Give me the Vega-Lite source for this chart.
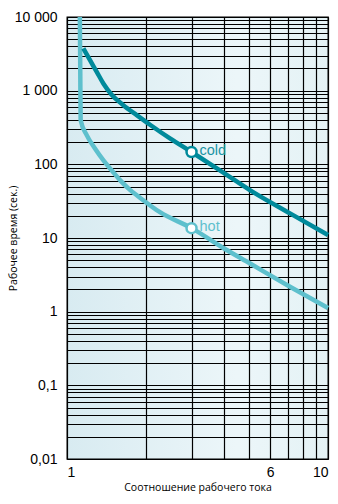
{
  "$schema": "https://vega.github.io/schema/vega-lite/v6.json",
  "width": 261,
  "height": 442,
  "autosize": {"type": "none"},
  "padding": {"left": 67, "top": 17, "right": 10, "bottom": 45},
  "background": "#ffffff",
  "config": {
    "view": {
      "stroke": "#000000",
      "strokeWidth": 1.3,
      "fill": {
        "gradient": "linear",
        "x1": 0, "y1": 0, "x2": 1, "y2": 0,
        "stops": [
          {"offset": 0, "color": "#d8ebf1"},
          {"offset": 0.65, "color": "#ecf6f9"},
          {"offset": 1, "color": "#e4f2f5"}
        ]
      }
    },
    "axis": {
      "grid": true,
      "gridColor": "#000000",
      "gridWidth": 1.2,
      "gridOpacity": 1,
      "ticks": false,
      "domain": false,
      "labelFont": "Liberation Sans",
      "labelFontSize": 14,
      "labelColor": "#000000",
      "labelOverlap": false,
      "titleFont": "Open Sans",
      "titleFontSize": 10.5,
      "titleFontWeight": "normal",
      "titleColor": "#000000"
    }
  },
  "datasets": {
    "curves": [
      {"series": "hot", "order": 1, "ratio": 1.12, "time": 10000},
      {"series": "hot", "order": 2, "ratio": 1.124, "time": 2000},
      {"series": "hot", "order": 3, "ratio": 1.128, "time": 398},
      {"series": "hot", "order": 4, "ratio": 1.19, "time": 249},
      {"series": "hot", "order": 5, "ratio": 1.28, "time": 164},
      {"series": "hot", "order": 6, "ratio": 1.377, "time": 114},
      {"series": "hot", "order": 7, "ratio": 1.483, "time": 83},
      {"series": "hot", "order": 8, "ratio": 1.596, "time": 61},
      {"series": "hot", "order": 9, "ratio": 1.743, "time": 45},
      {"series": "hot", "order": 10, "ratio": 1.87, "time": 37},
      {"series": "hot", "order": 11, "ratio": 2.27, "time": 22.4},
      {"series": "hot", "order": 12, "ratio": 3, "time": 13.6},
      {"series": "hot", "order": 13, "ratio": 4, "time": 7.2},
      {"series": "hot", "order": 14, "ratio": 5.03, "time": 4.5},
      {"series": "hot", "order": 15, "ratio": 7.15, "time": 2.18},
      {"series": "hot", "order": 16, "ratio": 10, "time": 1.12},
      {"series": "cold", "order": 1, "ratio": 1.155, "time": 3740},
      {"series": "cold", "order": 2, "ratio": 1.225, "time": 2594},
      {"series": "cold", "order": 3, "ratio": 1.3, "time": 1800},
      {"series": "cold", "order": 4, "ratio": 1.378, "time": 1253},
      {"series": "cold", "order": 5, "ratio": 1.483, "time": 880},
      {"series": "cold", "order": 6, "ratio": 1.644, "time": 636},
      {"series": "cold", "order": 7, "ratio": 1.85, "time": 466},
      {"series": "cold", "order": 8, "ratio": 2.08, "time": 345},
      {"series": "cold", "order": 9, "ratio": 2.48, "time": 225},
      {"series": "cold", "order": 10, "ratio": 3, "time": 147},
      {"series": "cold", "order": 11, "ratio": 4, "time": 76},
      {"series": "cold", "order": 12, "ratio": 5.02, "time": 44.7},
      {"series": "cold", "order": 13, "ratio": 7.15, "time": 21.6},
      {"series": "cold", "order": 14, "ratio": 10, "time": 11}
    ],
    "markers": [
      {"series": "cold", "ratio": 3, "time": 147},
      {"series": "hot", "ratio": 3, "time": 13.6}
    ]
  },
  "encoding": {
    "x": {
      "field": "ratio",
      "type": "quantitative",
      "scale": {"type": "log", "domain": [1, 10], "nice": false},
      "axis": {
        "title": "Соотношение рабочего тока",
        "values": [1, 2, 3, 4, 5, 6, 7, 8, 9, 10],
        "labelExpr": "datum.value == 1 ? '1' : datum.value == 6 ? '6' : datum.value == 10 ? '10' : ''",
        "labelPadding": 6,
        "titlePadding": 3
      }
    },
    "y": {
      "field": "time",
      "type": "quantitative",
      "scale": {"type": "log", "domain": [0.01, 10000], "nice": false},
      "axis": {
        "title": "Рабочее время (сек.)",
        "values": [0.01, 0.02, 0.03, 0.04, 0.05, 0.06, 0.07, 0.08, 0.09, 0.1, 0.2, 0.3, 0.4, 0.5, 0.6, 0.7, 0.8, 0.9, 1, 2, 3, 4, 5, 6, 7, 8, 9, 10, 20, 30, 40, 50, 60, 70, 80, 90, 100, 200, 300, 400, 500, 600, 700, 800, 900, 1000, 2000, 3000, 4000, 5000, 6000, 7000, 8000, 9000, 10000],
        "labelExpr": "datum.value == 10000 ? '10 000' : datum.value == 1000 ? '1 000' : datum.value == 100 ? '100' : datum.value == 10 ? '10' : datum.value == 1 ? '1' : datum.value == 0.1 ? '0,1' : datum.value == 0.01 ? '0,01' : ''",
        "labelPadding": 10,
        "titleX": -54,
        "titleY": 221,
        "titleAngle": -90,
        "titleAlign": "center",
        "titleBaseline": "middle"
      }
    }
  },
  "layer": [
    {
      "mark": {"type": "rect", "color": "#c4c4c4", "x2Offset": 5, "yOffset": 5, "y2Offset": 5},
      "encoding": {
        "x": {"datum": 10, "type": "quantitative"},
        "x2": {"datum": 10},
        "y": {"datum": 10000, "type": "quantitative"},
        "y2": {"datum": 0.01}
      }
    },
    {
      "mark": {"type": "rect", "color": "#c4c4c4", "xOffset": 5, "x2Offset": 5, "y2Offset": 5},
      "encoding": {
        "x": {"datum": 1, "type": "quantitative"},
        "x2": {"datum": 10},
        "y": {"datum": 0.01, "type": "quantitative"},
        "y2": {"datum": 0.01}
      }
    },
    {
      "data": {"name": "curves"},
      "transform": [{"filter": "datum.series == 'hot'"}],
      "mark": {"type": "line", "color": "#5ec0cd", "strokeWidth": 4.5, "interpolate": "monotone", "strokeJoin": "round"},
      "encoding": {"order": {"field": "order", "type": "quantitative"}}
    },
    {
      "data": {"name": "curves"},
      "transform": [{"filter": "datum.series == 'cold'"}],
      "mark": {"type": "line", "color": "#008a9b", "strokeWidth": 4.5, "interpolate": "monotone", "strokeJoin": "round"},
      "encoding": {"order": {"field": "order", "type": "quantitative"}}
    },
    {
      "data": {"name": "markers"},
      "mark": {"type": "point", "filled": false, "fill": "#ffffff", "fillOpacity": 1, "strokeWidth": 2.5, "size": 100, "opacity": 1},
      "encoding": {
        "stroke": {"field": "series", "type": "nominal", "scale": {"domain": ["cold", "hot"], "range": ["#008a9b", "#5ec0cd"]}, "legend": null}
      }
    },
    {
      "data": {"name": "markers"},
      "mark": {"type": "text", "align": "left", "baseline": "middle", "dx": 8, "dy": -1, "font": "Liberation Sans", "fontSize": 14.5},
      "encoding": {
        "text": {"field": "series", "type": "nominal"},
        "color": {"field": "series", "type": "nominal", "scale": {"domain": ["cold", "hot"], "range": ["#1a93a3", "#5ec0cd"]}, "legend": null}
      }
    }
  ]
}
